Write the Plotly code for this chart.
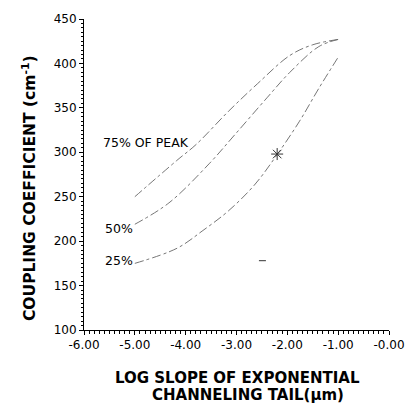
import plotly.graph_objects as go

# 75% of peak
x75 = [-5.0, -4.17, -3.79, -3.16, -2.59, -1.95, -1.50, -1.0]
y75 = [250, 291, 309, 346, 377, 409, 421, 427]
# 50%
x50 = [-5.0, -4.33, -3.54, -3.03, -2.39, -1.95, -1.38, -1.0]
y50 = [219, 243, 287, 320, 362, 390, 419, 427]
# 25%
x25 = [-5.0, -4.17, -3.66, -3.16, -2.65, -2.23, -1.76, -1.38, -1.0]
y25 = [175, 192, 212, 234, 263, 295, 335, 372, 407]

star_x = [-2.2]
star_y = [298]
dash_x = [-2.49]
dash_y = [178]

xticks = [-6, -5, -4, -3, -2, -1, 0]
xticklabels = ["-6.00", "-5.00", "-4.00", "-3.00", "-2.00", "-1.00", "-0.00"]
yticks = [100, 150, 200, 250, 300, 350, 400, 450]

FONT = "DejaVu Sans, sans-serif"
fig = go.Figure()
for xs, ys in [(x75, y75), (x50, y50), (x25, y25)]:
    fig.add_trace(go.Scatter(x=xs, y=ys, mode="lines", line=dict(color="#666", width=0.9, dash="dashdot", shape="spline"), showlegend=False))
fig.add_trace(go.Scatter(x=star_x, y=star_y, mode="markers", marker=dict(symbol="asterisk-open", size=10, color="#333", line=dict(color="#333", width=1)), showlegend=False))
fig.add_trace(go.Scatter(x=dash_x, y=dash_y, mode="markers", marker=dict(symbol="line-ew-open", size=5, color="#333", line=dict(color="#333", width=1)), showlegend=False))

L, R, T, B = 84, 18, 12, 82
pw, ph = 417 - L - R, 412 - T - B

def px(x):
    return (x - L) / pw

def py(y):
    return 1 - (y - T) / ph

fig.update_layout(
    width=417, height=412,
    margin=dict(l=L, r=R, t=T, b=B),
    paper_bgcolor="white", plot_bgcolor="white",
    font=dict(family=FONT, color="black", size=12),
    xaxis=dict(range=[-6, 0], tickvals=xticks, ticktext=xticklabels, showgrid=False, zeroline=False,
               showline=True, linecolor="black", linewidth=1, ticks="outside", ticklen=4, tickcolor="black",
               minor=dict(dtick=0.1, ticks="outside", ticklen=3, tickcolor="black"),
               tickfont=dict(size=12, family=FONT)),
    yaxis=dict(range=[100, 450], tickvals=yticks, showgrid=False, zeroline=False,
               showline=True, linecolor="black", linewidth=1, ticks="outside", ticklen=4, tickcolor="black",
               minor=dict(dtick=5, ticks="outside", ticklen=2, tickcolor="black"),
               tickfont=dict(size=12, family=FONT)),
    annotations=[
        dict(text="75% OF PEAK", x=px(102), y=py(138), xref="paper", yref="paper", showarrow=False, xanchor="left", yanchor="middle", font=dict(size=12.5)),
        dict(text="50%", x=px(104), y=py(226), xref="paper", yref="paper", showarrow=False, xanchor="left", yanchor="middle", font=dict(size=12.5)),
        dict(text="25%", x=px(104), y=py(259), xref="paper", yref="paper", showarrow=False, xanchor="left", yanchor="middle", font=dict(size=12.5)),
        dict(text="<b>COUPLING COEFFICIENT (cm<sup>-1</sup>)</b>", x=px(27), y=py(185),
             xref="paper", yref="paper", showarrow=False, textangle=-90, font=dict(size=15.5),
             xanchor="center", yanchor="middle"),
        dict(text="<b>LOG SLOPE OF EXPONENTIAL</b>", x=px(243), y=py(379),
             xref="paper", yref="paper", showarrow=False, font=dict(size=15), xanchor="center", yanchor="middle"),
        dict(text="<b>CHANNELING TAIL(µm)</b>", x=px(253), y=py(396),
             xref="paper", yref="paper", showarrow=False, font=dict(size=15), xanchor="center", yanchor="middle"),
    ],
)

fig.write_html("out.html")
